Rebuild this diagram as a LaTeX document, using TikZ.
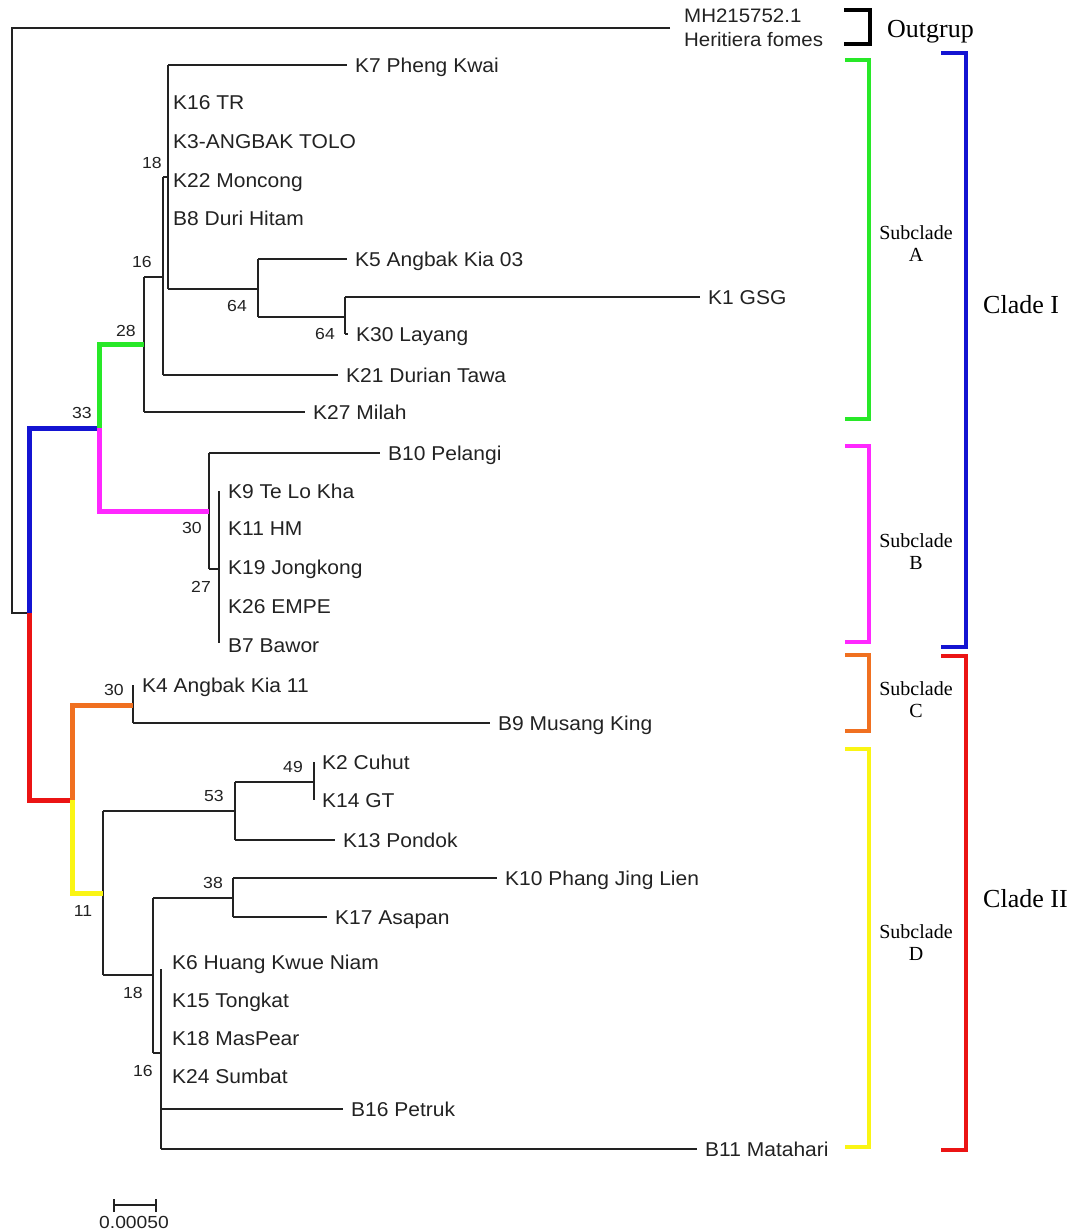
\documentclass[tikz,border=0pt]{standalone}
\usepackage{fontspec}
\setmainfont{Liberation Serif}
\newfontfamily\treefont[FakeStretch=1.05]{Liberation Sans}
\newfontfamily\numfont[FakeStretch=1.1]{Liberation Sans}
\definecolor{cgreen}{RGB}{40,232,40}
\definecolor{cmag}{RGB}{255,40,255}
\definecolor{cblue}{RGB}{20,20,210}
\definecolor{cred}{RGB}{235,20,20}
\definecolor{corange}{RGB}{240,112,32}
\definecolor{cyellow}{RGB}{250,245,20}
\definecolor{ink}{RGB}{34,34,34}
\begin{document}
\begin{tikzpicture}[x=1pt,y=-1pt,
  br/.style={draw=ink, line width=1.6pt},
  cb/.style={line width=5pt},
  bk/.style={line width=3.4pt},
  tip/.style={font=\treefont\fontsize{20}{24}\selectfont, anchor=west, inner sep=0pt,
    text=ink, text height=14pt, text depth=0pt},
  bs/.style={font=\numfont\fontsize{16}{18}\selectfont, inner sep=0pt, text=ink,
    text height=11.5pt, text depth=0pt},
  sub/.style={font=\fontsize{20}{22}\selectfont, align=center, inner sep=0pt},
  clade/.style={font=\fontsize{26}{28}\selectfont, inner sep=0pt, anchor=base west}]
\useasboundingbox (0,0) rectangle (1078,1231);

% ---------- tip labels ----------
\node[tip] (k7)  at (355,65)   {K7 Pheng Kwai};
\node[tip] (k16) at (173,102)  {K16 TR};
\node[tip] (k3)  at (173,141)  {K3-ANGBAK TOLO};
\node[tip] (k22) at (173,180)  {K22 Moncong};
\node[tip] (b8)  at (173,218)  {B8 Duri Hitam};
\node[tip] (k5)  at (355,259)  {K5 Angbak Kia 03};
\node[tip] (k1)  at (708,297)  {K1 GSG};
\node[tip] (k30) at (356,334)  {K30 Layang};
\node[tip] (k21) at (346,375)  {K21 Durian Tawa};
\node[tip] (k27) at (313,412)  {K27 Milah};
\node[tip] (b10) at (388,453)  {B10 Pelangi};
\node[tip] (k9)  at (228,491)  {K9 Te Lo Kha};
\node[tip] (k11) at (228,528)  {K11 HM};
\node[tip] (k19) at (228,567)  {K19 Jongkong};
\node[tip] (k26) at (228,606)  {K26 EMPE};
\node[tip] (b7)  at (228,645)  {B7 Bawor};
\node[tip] (k4)  at (142,685)  {K4 Angbak Kia 11};
\node[tip] (b9)  at (498,723)  {B9 Musang King};
\node[tip] (k2)  at (322,762)  {K2 Cuhut};
\node[tip] (k14) at (322,800)  {K14 GT};
\node[tip] (k13) at (343,840)  {K13 Pondok};
\node[tip] (k10) at (505,878)  {K10 Phang Jing Lien};
\node[tip] (k17) at (335,917)  {K17 Asapan};
\node[tip] (k6)  at (172,962)  {K6 Huang Kwue Niam};
\node[tip] (k15) at (172,1000) {K15 Tongkat};
\node[tip] (k18) at (172,1038) {K18 MasPear};
\node[tip] (k24) at (172,1076) {K24 Sumbat};
\node[tip] (b16) at (351,1109) {B16 Petruk};
\node[tip] (b11) at (705,1149) {B11 Matahari};
\node[tip, font=\treefont\fontsize{19.5}{24}\selectfont, align=left, text height=, text depth=]
  (og) at (684,28) {MH215752.1\\Heritiera fomes};

% ---------- internal nodes ----------
\coordinate (rt)   at (12,613);
\coordinate (cI)   at (29,613);
\coordinate (cA)   at (99,428);
\coordinate (n28)  at (144,344);
\coordinate (n16a) at (163,277);
\coordinate (n18a) at (168,177);
\coordinate (n64a) at (258,289);
\coordinate (n64b) at (345,317);
\coordinate (nB)   at (209,511);
\coordinate (n27)  at (219,569);
\coordinate (cII)  at (72,800);
\coordinate (nC)   at (133,705);
\coordinate (nD)   at (103,893);
\coordinate (n53)  at (235,811);
\coordinate (n49)  at (314,782);
\coordinate (n18b) at (153,975);
\coordinate (n38)  at (233,898);
\coordinate (n16b) at (161,1053);

% ---------- black branches ----------
\draw[br] ([xshift=-14pt]og.west) -- (rt |- og) -- (rt) -- (cI);
% subclade A
\draw[br] (n28 |- n16a) -- (n28 |- k27);
\draw[br] (n28 |- n16a) -- (n16a);
\draw[br] (n28 |- k27) -- ([xshift=-8pt]k27.west);
\draw[br] (n16a |- n18a) -- (n16a |- k21);
\draw[br] (n16a |- k21) -- ([xshift=-8pt]k21.west);
\draw[br] (n16a |- n18a) -- (n18a);
\draw[br] (n18a |- k7) -- (n18a |- n64a);
\draw[br] (n18a |- k7) -- ([xshift=-8pt]k7.west);
\draw[br] (n18a |- n64a) -- (n64a);
\draw[br] (n64a |- k5) -- (n64a |- n64b);
\draw[br] (n64a |- k5) -- ([xshift=-8pt]k5.west);
\draw[br] (n64a |- n64b) -- (n64b);
\draw[br] (n64b |- k1) -- (n64b |- k30);
\draw[br] (n64b |- k1) -- ([xshift=-8pt]k1.west);
\draw[br] (n64b |- k30) -- ([xshift=-8pt]k30.west);
% subclade B
\draw[br] (nB |- b10) -- (nB |- n27);
\draw[br] (nB |- b10) -- ([xshift=-8pt]b10.west);
\draw[br] (nB |- n27) -- (n27);
\draw[br] (n27 |- k9) -- ([yshift=2pt]n27 |- b7);
% subclade C
\draw[br] (nC |- k4) -- (nC |- b9);
\draw[br] (nC |- b9) -- ([xshift=-8pt]b9.west);
% subclade D
\draw[br] (nD |- n53) -- (nD |- n18b);
\draw[br] (nD |- n53) -- (n53);
\draw[br] (n53 |- n49) -- (n53 |- k13);
\draw[br] (n53 |- n49) -- (n49);
\draw[br] (n53 |- k13) -- ([xshift=-8pt]k13.west);
\draw[br] (n49 |- k2) -- (n49 |- k14);
\draw[br] (nD |- n18b) -- (n18b);
\draw[br] (n18b |- n38) -- (n18b |- n16b);
\draw[br] (n18b |- n38) -- (n38);
\draw[br] (n38 |- k10) -- (n38 |- k17);
\draw[br] (n38 |- k10) -- ([xshift=-8pt]k10.west);
\draw[br] (n38 |- k17) -- ([xshift=-8pt]k17.west);
\draw[br] (n18b |- n16b) -- (n16b);
\draw[br] ([yshift=-7pt]n16b |- k6) -- (n16b |- b11);
\draw[br] (n16b |- b16) -- ([xshift=-8pt]b16.west);
\draw[br] (n16b |- b11) -- ([xshift=-8pt]b11.west);

% ---------- coloured branches ----------
\draw[cb, cblue]   (cI) -- (cI |- cA) -- (cA);
\draw[cb, cgreen]  (cA) -- (cA |- n28) -- (n28);
\draw[cb, cmag]    (cA) -- (cA |- nB) -- (nB);
\draw[cb, cred]    (cI) -- (cI |- cII) -- (cII);
\draw[cb, corange] (cII) -- (cII |- nC) -- (nC);
\draw[cb, cyellow] (cII) -- (cII |- nD) -- (nD);

% ---------- bootstrap values ----------
\node[bs] (bs1)  at (152,163)  {18};
\node[bs] (bs2)  at (142,262)  {16};
\node[bs] (bs3)  at (237,306)  {64};
\node[bs] (bs4)  at (325,334)  {64};
\node[bs] (bs5)  at (126,331)  {28};
\node[bs] (bs6)  at (82,413)   {33};
\node[bs] (bs7)  at (192,528)  {30};
\node[bs] (bs8)  at (201,587)  {27};
\node[bs] (bs9)  at (114,690)  {30};
\node[bs] (bs10) at (293,767)  {49};
\node[bs] (bs11) at (214,796)  {53};
\node[bs] (bs12) at (213,883)  {38};
\node[bs] (bs13) at (83,911)   {11};
\node[bs] (bs14) at (133,993)  {18};
\node[bs] (bs15) at (143,1071) {16};

% ---------- scale bar ----------
\coordinate (sb1) at (114,1205);
\coordinate (sb2) at (156,1205);
\draw[br] (sb1) -- (sb2);
\draw[br] ([yshift=-7pt]sb1) -- ([yshift=6pt]sb1);
\draw[br] ([yshift=-7pt]sb2) -- ([yshift=6pt]sb2);
\node[bs, font=\numfont\fontsize{17.5}{18}\selectfont] (sbl) at (134,1223) {0.00050};

% ---------- brackets ----------
\draw[bk, black]   (844,10)  -- (870,10)  -- (870,44)   -- (844,44);
\draw[bk, cgreen]  (845,60)  -- (869,60)  -- (869,419)  -- (845,419);
\draw[bk, cmag]    (845,446) -- (869,446) -- (869,642)  -- (845,642);
\draw[bk, corange] (845,655) -- (869,655) -- (869,731)  -- (845,731);
\draw[bk, cyellow] (845,749) -- (869,749) -- (869,1147) -- (845,1147);
\draw[bk, cblue]   (941,53)  -- (966,53)  -- (966,647)  -- (941,647);
\draw[bk, cred]    (941,656) -- (966,656) -- (966,1150) -- (941,1150);

\node[clade] (lout) at (887,38)  {Outgrup};
\node[sub]   (lA)   at (916,244) {Subclade\\A};
\node[sub]   (lB)   at (916,552) {Subclade\\B};
\node[sub]   (lC)   at (916,700) {Subclade\\C};
\node[sub]   (lD)   at (916,943) {Subclade\\D};
\node[clade] (lI)   at (983,313) {Clade I};
\node[clade] (lII)  at (983,907) {Clade II};
\end{tikzpicture}
\end{document}
